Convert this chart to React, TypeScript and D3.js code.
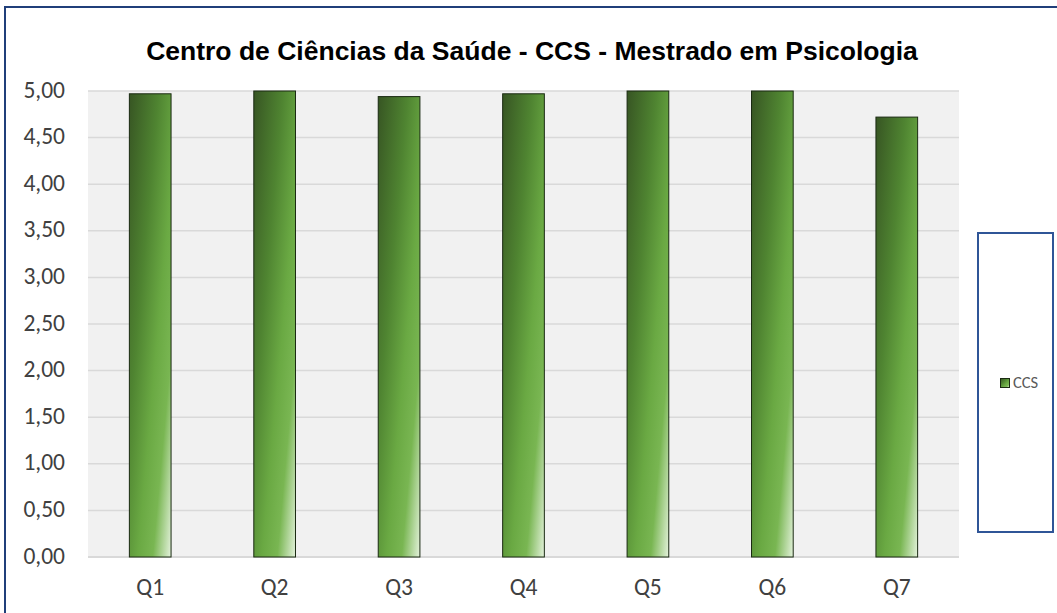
import React from 'react';
import * as d3 from 'd3';

// 차트 데이터
const categories = ['Q1', 'Q2', 'Q3', 'Q4', 'Q5', 'Q6', 'Q7'];
const values = [4.97, 5.0, 4.94, 4.97, 5.0, 5.0, 4.72];
const yTicks = [0, 0.5, 1, 1.5, 2, 2.5, 3, 3.5, 4, 4.5, 5];
const seriesName = 'CCS';
const title = 'Centro de Ciências da Saúde - CCS - Mestrado em Psicologia';

const W = 1057;
const H = 613;
const plot = { left: 88, right: 959, top: 91, bottom: 557 };
const labelFont = 'Carlito, Lato, "Noto Sans", sans-serif';

const fmt = (v: number) => v.toFixed(2).replace('.', ',');

export default function App() {
  const x = d3
    .scaleBand<string>()
    .domain(categories)
    .range([plot.left, plot.right])
    .paddingInner(0.665)
    .paddingOuter(0.3325);
  const y = d3.scaleLinear().domain([0, 5]).range([plot.bottom, plot.top]);

  return (
    <svg width={W} height={H} style={{ position: 'absolute', left: 0, top: 0, background: '#fff' }}>
      <defs>
        <linearGradient id="barGrad" x1="0" y1="0" x2="1" y2="1">
          <stop offset="0" stopColor="#375523" />
          <stop offset="0.35" stopColor="#4f8431" />
          <stop offset="0.6" stopColor="#6aa943" />
          <stop offset="0.78" stopColor="#79b652" />
          <stop offset="1" stopColor="#e4f2dc" />
        </linearGradient>
      </defs>

      {/* 외곽선 */}
      <rect x={5} y={7} width={1200} height={800} fill="#fff" stroke="#203f7a" strokeWidth={2} />

      {/* 플롯 배경 */}
      <rect
        x={plot.left}
        y={plot.top}
        width={plot.right - plot.left}
        height={plot.bottom - plot.top}
        fill="#f1f1f1"
      />

      {/* 그리드 */}
      {yTicks.map((t) => (
        <line
          key={t}
          x1={plot.left}
          x2={plot.right}
          y1={y(t)}
          y2={y(t)}
          stroke="#d9d9d9"
          strokeWidth={t === 0 ? 2 : 1.5}
        />
      ))}

      {/* 막대 */}
      {categories.map((c, i) => (
        <rect
          key={c}
          x={x(c)}
          y={y(values[i])}
          width={x.bandwidth()}
          height={y(0) - y(values[i])}
          fill="url(#barGrad)"
          stroke="#1a2a12"
          strokeWidth={1}
        />
      ))}

      {/* Y축 라벨 */}
      {yTicks.map((t) => (
        <text
          key={t}
          x={65}
          y={y(t) + 6.5}
          textAnchor="end"
          fontFamily={labelFont}
          fontSize={23.5}
          fill="#404040">
          {fmt(t)}
        </text>
      ))}

      {/* X축 라벨 */}
      {categories.map((c) => (
        <text
          key={c}
          x={(x(c) as number) + x.bandwidth() / 2}
          y={595}
          textAnchor="middle"
          fontFamily={labelFont}
          fontSize={23.5}
          fill="#404040">
          {c}
        </text>
      ))}

      {/* 제목 */}
      <text
        x={532}
        y={59.5}
        textAnchor="middle"
        fontFamily='"Liberation Sans", Arial, sans-serif'
        fontWeight="bold"
        fontSize={26.5}
        fill="#000">
        {title}
      </text>

      {/* 범례 */}
      <rect x={978} y={233} width={75} height={299} fill="#fff" stroke="#2f5597" strokeWidth={2} />
      <rect x={1000.5} y={378.5} width={9} height={9} fill="url(#barGrad)" stroke="#1a2a12" strokeWidth={1} />
      <text
        x={1013}
        y={388}
        fontFamily={labelFont}
        fontSize={16.5}
        fill="#595959">
        {seriesName}
      </text>
    </svg>
  );
}
